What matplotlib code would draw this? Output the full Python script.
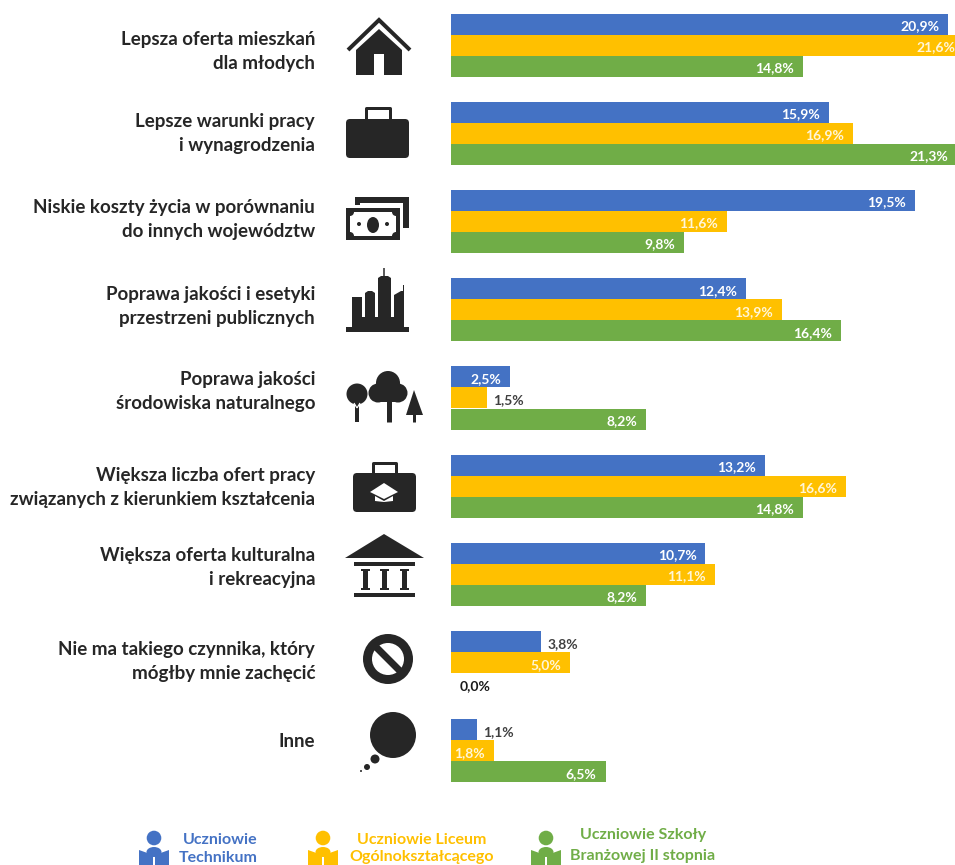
import matplotlib
matplotlib.use('Agg')
import matplotlib.pyplot as plt
from matplotlib.patches import Polygon, Rectangle, Circle, Ellipse, FancyBboxPatch

categories = [
    'Lepsza oferta mieszkań\ndla młodych',
    'Lepsze warunki pracy\ni wynagrodzenia',
    'Niskie koszty życia w porównaniu\ndo innych województw',
    'Poprawa jakości i esetyki\nprzestrzeni publicznych',
    'Poprawa jakości\nśrodowiska naturalnego',
    'Większa liczba ofert pracy\nzwiązanych z kierunkiem kształcenia',
    'Większa oferta kulturalna\ni rekreacyjna',
    'Nie ma takiego czynnika, który\nmógłby mnie zachęcić',
    'Inne',
]
technikum = [20.9, 15.9, 19.5, 12.4, 2.5, 13.2, 10.7, 3.8, 1.1]
liceum = [21.6, 16.9, 11.6, 13.9, 1.5, 16.6, 11.1, 5.0, 1.8]
branzowa = [14.8, 21.3, 9.8, 16.4, 8.2, 14.8, 8.2, 0.0, 6.5]

BLUE = '#4472C4'
YELLOW = '#FFC000'
GREEN = '#70AD47'
DARK = '#262626'
FONT = 'Lato'

W, H = 955, 865
PX = 72 / 100  # one pixel in points

fig = plt.figure(figsize=(W / 100, H / 100), dpi=100, facecolor='white')

# pixel layer for the texts and icons
bg = fig.add_axes([0, 0, 1, 1])
bg.set_xlim(0, W)
bg.set_ylim(H, 0)
bg.axis('off')

# bars: one group per unit, 88.25 px apart, first group centred at y=45 px
ax = fig.add_axes([451 / W, 0, 504 / W, 1])
ax.set_xlim(0, 504 / 23.78)
ax.set_ylim((H - 45) / 88.25, -45 / 88.25)
ax.axis('off')
ax.patch.set_alpha(0)

bar_h = 21 / 88.25
series = [(technikum, BLUE, -bar_h), (liceum, YELLOW, 0), (branzowa, GREEN, bar_h)]
for values, color, shift in series:
    ys = [i + shift for i in range(len(values))]
    ax.barh(ys, values, height=bar_h, color=color, linewidth=0)
    for y, v in zip(ys, values):
        txt = f'{v:.1f}%'.replace('.', ',')
        if v == 0:
            ax.annotate(txt, (v, y), xytext=(9, -2), textcoords='offset pixels', ha='left', va='center',
                        fontsize=10, fontweight='bold', family=FONT, color='#1a1a1a')
        elif v < 1.6 or v == 3.8:
            ax.annotate(txt, (v, y), xytext=(6, -2), textcoords='offset pixels', ha='left', va='center',
                        fontsize=10, fontweight='bold', family=FONT, color='#404040')
        else:
            c = '#FFF6D8' if color == YELLOW else 'white'
            ax.annotate(txt, (v, y), xytext=(-9, -2), textcoords='offset pixels', ha='right', va='center',
                        fontsize=10, fontweight='bold', family=FONT, color=c, annotation_clip=False)

# category labels are not centred on the groups in the original
label_y = [51.5, 133.5, 219.5, 306.5, 392, 487.5, 567, 661.5, 741.5]
for lab, y in zip(categories, label_y):
    bg.text(315, y, lab, ha='right', va='center', fontsize=13.5, fontweight='bold', family=FONT,
            color=DARK, linespacing=1.5)


def poly(pts, color=DARK):
    bg.add_patch(Polygon(pts, closed=True, fc=color, ec='none'))


def rect(x0, y0, x1, y1, color=DARK):
    bg.add_patch(Rectangle((x0, y0), x1 - x0, y1 - y0, fc=color, ec='none'))


def circ(x, y, r, color=DARK):
    bg.add_patch(Circle((x, y), r, fc=color, ec='none'))


def line(xs, ys, lw, color=DARK, join='miter'):
    bg.plot(xs, ys, color=color, lw=lw * PX, solid_capstyle='butt', solid_joinstyle=join)


def case(x0, y0, x1, y1, hx0, hx1, htop):
    bg.add_patch(FancyBboxPatch((x0 + 3, y0 + 3), x1 - x0 - 6, y1 - y0 - 6, boxstyle='round,pad=3,rounding_size=4',
                                fc=DARK, ec='none'))
    line([hx0, hx0, hx1, hx1], [y0, htop, htop, y0], 3, join='round')


# house
line([348, 379, 410], [50, 20, 50], 4)
poly([(356, 50), (379, 29), (402, 50), (402, 75), (384, 75), (384, 54), (374, 54), (374, 75), (356, 75)])

# briefcase
case(346, 119, 409, 158, 366, 390, 108)

# banknotes
rect(355, 197, 409, 228)
rect(360, 203, 403, 228, 'white')
rect(344, 205, 402, 242, 'white')
rect(346, 208, 400, 240)
rect(350, 212, 396, 236, 'white')
for cx in (350, 396):
    for cy in (212, 236):
        circ(cx, cy, 4)
bg.add_patch(Ellipse((373, 225), 12, 16, fc=DARK, ec='none'))
circ(359, 224, 2)
circ(387, 224, 2)

# city
rect(346, 327, 409, 332)
rect(352, 297, 362, 327)
poly([(365, 327), (365, 293), (368, 291), (372, 291), (375, 293), (375, 327)])
poly([(378, 327), (378, 278), (381, 276), (388, 276), (391, 278), (391, 327)])
line([384, 384], [276, 268], 1.5)
poly([(394, 327), (394, 295), (401, 291), (403, 291), (403, 285), (404, 285), (404, 327)])
rect(352, 317, 404, 327)

# trees
circ(357, 394, 10.5)
line([357, 357], [394, 422], 4)
line([357, 354], [408, 403], 1.2, 'white')
line([357, 360], [408, 403], 1.2, 'white')
circ(388, 383, 12)
circ(378, 393, 9.5)
circ(398, 393, 9.5)
rect(380, 385, 396, 402)
line([389, 389], [395, 422], 5)
poly([(389, 397), (387, 402), (389, 407), (391, 402)], 'white')
poly([(414, 390), (406, 415), (423, 415)])
line([414, 414], [410, 422], 3)

# graduate briefcase
case(353, 473, 416, 512, 373, 396, 463)
poly([(384, 483), (370, 492), (384, 499), (398, 492)], 'white')
poly([(375, 496), (384, 501), (393, 496), (393, 501), (384, 502), (375, 501)], 'white')

# museum
poly([(384, 534), (345, 558), (424, 558)])
rect(354, 562, 415, 566)
rect(354, 593, 415, 597)
for cx in (365, 384, 404):
    rect(cx - 2.5, 569, cx + 2.5, 590)
    rect(cx - 4.5, 569, cx + 4.5, 571)
    rect(cx - 4.5, 588, cx + 4.5, 590)

# no sign
circ(388, 659, 25)
circ(388, 659, 16, 'white')
line([375, 401], [646, 672], 7)

# thought bubble
circ(393, 735, 23)
circ(375, 759, 4.5)
circ(367, 767, 3)
circ(361, 771, 1)


def reader(cx, color):
    circ(cx, 838, 7.3, color)
    bg.add_patch(Ellipse((cx, 852), 15, 10, fc=color, ec='none'))
    poly([(cx - 15, 850), (cx - 1, 855), (cx - 1, 866), (cx - 15, 866)], color)
    poly([(cx + 15, 850), (cx + 1, 855), (cx + 1, 866), (cx + 15, 866)], color)


reader(154, BLUE)
reader(323, YELLOW)
reader(546, GREEN)

legend_text = [
    (220, 840, 'Uczniowie', BLUE),
    (218, 858, 'Technikum', BLUE),
    (422, 840, 'Uczniowie Liceum', YELLOW),
    (422, 857, 'Ogólnokształcącego', YELLOW),
    (643, 835, 'Uczniowie Szkoły', GREEN),
    (643, 856, 'Branżowej II stopnia', GREEN),
]
for x, y, t, c in legend_text:
    bg.text(x, y, t, ha='center', va='center', fontsize=11.5, fontweight='bold', family=FONT, color=c)

fig.savefig('out.png', dpi=100)
